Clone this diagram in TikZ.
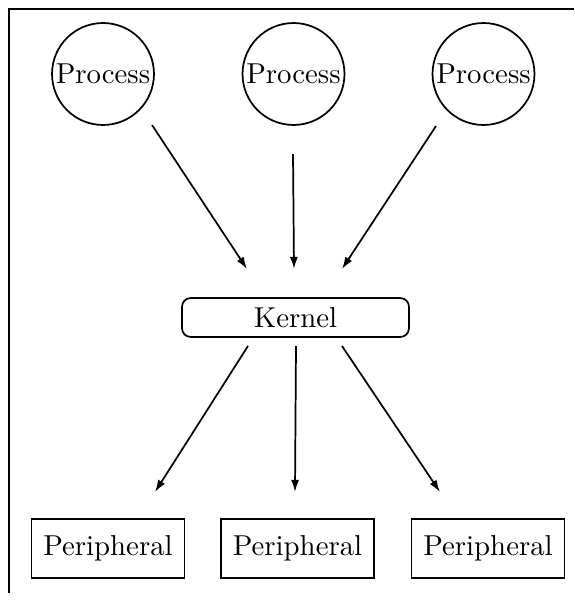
\documentclass[tikz,border=0pt]{standalone}
\usetikzlibrary{arrows.meta}
\begin{document}
\begin{tikzpicture}[x=0.3472pt,y=-0.3472pt,line width=0.6pt,
  proc/.style={draw,circle,minimum size=35.4pt,inner sep=0pt},
  kern/.style={draw,rectangle,rounded corners=3pt,minimum width=78.8pt,minimum height=13.5pt,inner sep=0pt},
  peri/.style={draw,rectangle,minimum width=53.1pt,minimum height=20.5pt,inner sep=0pt},
  conn/.style={-{Latex[length=4.2pt,width=2.8pt]}}]
\useasboundingbox (0,0) rectangle (574,605);
\draw (574,9) -- (9,9) -- (9,593);
\node[proc] (p1) at (103,74) {Process};
\node[proc] (p2) at (293.5,74) {Process};
\node[proc] (p3) at (483.5,74) {Process};
\node[kern] (k) at (295.5,317.5) {Kernel};
\node[peri] (r1) at (108,548.5) {Peripheral};
\node[peri] (r2) at (297.5,548.5) {Peripheral};
\node[peri] (r3) at (488,548.5) {Peripheral};
\draw[conn] ([shift={(49,51)}]p1.center) -- ([shift={(-48.5,-48.5)}]k.center);
\draw[conn] ([shift={(-0.5,80)}]p2.center) -- ([shift={(-1.5,-48.5)}]k.center);
\draw[conn] ([shift={(-47.5,52)}]p3.center) -- ([shift={(46.5,-48.5)}]k.center);
\draw[conn] ([shift={(-47.5,28.5)}]k.center) -- ([shift={(47,-56.5)}]r1.center);
\draw[conn] ([shift={(0.5,28.5)}]k.center) -- ([shift={(-2.5,-56.5)}]r2.center);
\draw[conn] ([shift={(46.5,28.5)}]k.center) -- ([shift={(-48,-56.5)}]r3.center);
\end{tikzpicture}
\end{document}
